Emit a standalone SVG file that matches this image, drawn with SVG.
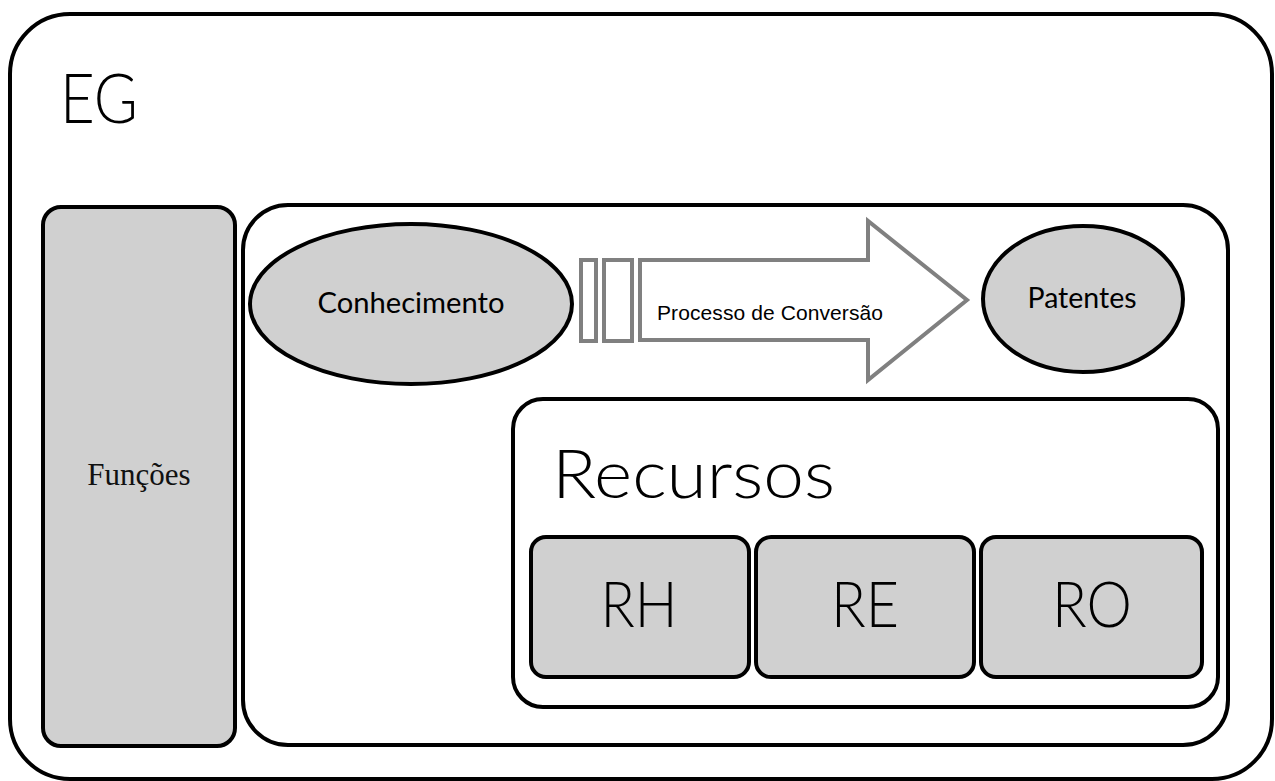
<svg xmlns="http://www.w3.org/2000/svg" width="1275" height="781" viewBox="0 0 1275 781">
<style>
.frame{fill:#ffffff;stroke:#000;stroke-width:4}
.grey{fill:#d0d0d0;stroke:#000;stroke-width:4}
.arr{fill:#ffffff;stroke:#808080;stroke-width:4}
.cal{font-family:Lato,"Open Sans",sans-serif;fill:#000}
.big{font-weight:300}
</style>
<rect width="1275" height="781" fill="#ffffff"/>
<g id="eg">
<rect class="frame" x="10" y="14" width="1262" height="765" rx="60"/>
<text class="cal big" x="60" y="123" font-size="68" textLength="78" lengthAdjust="spacingAndGlyphs">EG</text>
</g>
<g id="funcoes">
<rect class="grey" x="43" y="207" width="192" height="539" rx="18"/>
<text x="139" y="485" font-family="Liberation Serif,serif" font-size="31" text-anchor="middle" fill="#111">Funções</text>
</g>
<g id="area">
<rect class="frame" x="243" y="205" width="985" height="540" rx="45"/>
</g>
<g id="conhecimento">
<ellipse class="grey" cx="411" cy="304" rx="161" ry="80"/>
<text class="cal" x="411" y="313" font-size="28" text-anchor="middle" textLength="187" lengthAdjust="spacingAndGlyphs" fill="#1a1a1a">Conhecimento</text>
</g>
<g id="processo">
<rect class="arr" x="581" y="260" width="15" height="81"/>
<rect class="arr" x="604" y="260" width="28" height="81"/>
<polygon class="arr" points="640,260 868,260 868,221 967,300 868,380 868,340 640,340"/>
<text x="657" y="320" font-family="Liberation Sans,Arial,sans-serif" font-size="21" textLength="226" fill="#000">Processo de Conversão</text>
</g>
<g id="patentes">
<ellipse class="grey" cx="1083" cy="299" rx="100" ry="73"/>
<text class="cal" x="1082" y="308" font-size="28" text-anchor="middle" textLength="109" lengthAdjust="spacingAndGlyphs" fill="#1a1a1a">Patentes</text>
</g>
<g id="recursos">
<rect class="frame" x="513" y="399" width="705" height="308" rx="30"/>
<text class="cal big" x="552" y="498" font-size="67" textLength="283" lengthAdjust="spacingAndGlyphs">Recursos</text>
</g>
<g id="rh">
<rect class="grey" x="531" y="537" width="218" height="140" rx="15"/>
<text class="cal big" x="639" y="627" font-size="63" text-anchor="middle" textLength="77" lengthAdjust="spacingAndGlyphs">RH</text>
</g>
<g id="re">
<rect class="grey" x="756" y="537" width="218" height="140" rx="15"/>
<text class="cal big" x="865" y="627" font-size="63" text-anchor="middle" textLength="68" lengthAdjust="spacingAndGlyphs">RE</text>
</g>
<g id="ro">
<rect class="grey" x="981" y="537" width="221" height="140" rx="15"/>
<text class="cal big" x="1092" y="627" font-size="63" text-anchor="middle" textLength="80" lengthAdjust="spacingAndGlyphs">RO</text>
</g>
<g id="connectors"></g>
</svg>
